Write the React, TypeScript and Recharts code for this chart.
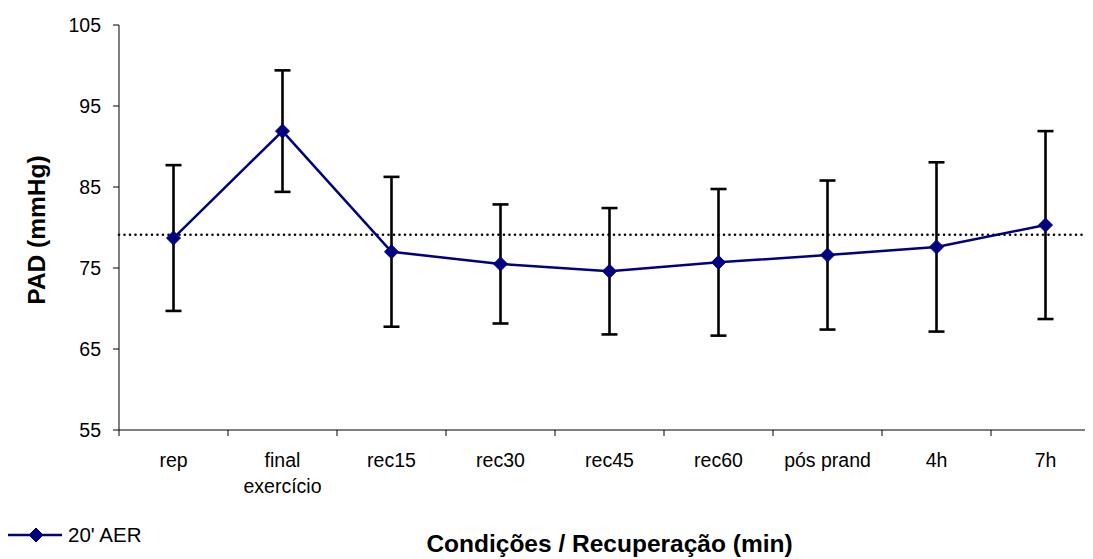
import {
  ComposedChart,
  Line,
  XAxis,
  YAxis,
  ErrorBar,
  ReferenceLine,
} from "recharts";

// PAD por condição, média ± DP
const categories = ["rep", "final\nexercício", "rec15", "rec30", "rec45", "rec60", "pós prand", "4h", "7h"];
const mean = [78.7, 91.9, 77.0, 75.5, 74.6, 75.7, 76.6, 77.6, 80.3];
const sd = [9.0, 7.5, 9.25, 7.35, 7.8, 9.05, 9.2, 10.45, 11.6];
const baseline = 79.1;
const yTicks = [55, 65, 75, 85, 95, 105];

const FONT = '"Liberation Sans", Arial, sans-serif';
const NAVY = "#000080";
const W = 1092;
const H = 551;
const Y_W = 111;
const BAND = (W - Y_W) / categories.length;
const MARK = 7;

const data = categories.map((c, i) => ({ c, v: mean[i], sd: sd[i] }));

function Diamond({ cx, cy }: { cx?: number; cy?: number }) {
  if (cx == null || cy == null) return null;
  const r = MARK;
  return (
    <polygon
      points={`${cx},${cy - r} ${cx + r},${cy} ${cx},${cy + r} ${cx - r},${cy}`}
      fill={NAVY}
      stroke={NAVY}
    />
  );
}

// category label centred in its band, tick mark on the band's left edge
function CatTick(props: any) {
  const { x, y, payload } = props;
  const lines = String(payload.value).split("\n");
  return (
    <g>
      <line x1={x - BAND / 2} x2={x - BAND / 2} y1={y} y2={y + 6} stroke="#000" />
      <text x={x} y={y + 37} textAnchor="middle" fontSize={19.5} fontFamily={FONT} fill="#000">
        {lines.map((l, i) => (
          <tspan key={i} x={x} dy={i === 0 ? 0 : 26}>
            {l}
          </tspan>
        ))}
      </text>
    </g>
  );
}

export default function App() {
  return (
    <div style={{ position: "relative", width: 1085, height: H, overflow: "hidden", fontFamily: FONT }}>
      <ComposedChart
        width={W}
        height={H}
        data={data}
        margin={{ top: 17, right: 0, bottom: 0, left: 0 }}
      >
        <XAxis
          dataKey="c"
          type="category"
          scale="band"
          interval={0}
          height={129}
          tickLine={false}
          tickSize={0}
          tickMargin={0}
          axisLine={{ stroke: "#000" }}
          tick={<CatTick />}
          label={{
            content: () => (
              <text x={Y_W + (W - Y_W) / 2} y={544} textAnchor="middle" fontSize={24.5} fontWeight="bold" fontFamily={FONT} fill="#000">
                Condições / Recuperação (min)
              </text>
            ),
          }}
        />
        <YAxis
          width={Y_W}
          domain={[55, 105]}
          ticks={yTicks}
          interval={0}
          tickSize={6}
          tickMargin={12}
          tickLine={{ stroke: "#000" }}
          axisLine={{ stroke: "#000" }}
          tick={{ fontSize: 19.5, fontFamily: FONT, fill: "#000" }}
          label={{
            content: () => (
              <text
                x={37}
                y={222}
                transform="rotate(-90 37 222)"
                textAnchor="middle"
                fontSize={24.5}
                fontWeight="bold"
                fontFamily={FONT}
                fill="#000"
              >
                PAD (mmHg)
              </text>
            ),
          }}
        />
        <ReferenceLine
          y={baseline}
          stroke="#000"
          strokeWidth={2.6}
          strokeDasharray="0 5.5"
          strokeLinecap="round"
        />
        <Line
          dataKey="v"
          stroke={NAVY}
          strokeWidth={2.5}
          dot={<Diamond />}
          activeDot={false}
          isAnimationActive={false}
        >
          <ErrorBar dataKey="sd" direction="y" width={8} stroke="#000" strokeWidth={2.6} isAnimationActive={false} />
        </Line>
      </ComposedChart>
      <div
        style={{
          position: "absolute",
          left: 0,
          top: 517,
          height: 20,
          display: "flex",
          alignItems: "center",
          fontSize: 20.5,
          color: "#000",
        }}
      >
        <svg width={56} height={20}>
          <line x1={0} x2={54} y1={10} y2={10} stroke={NAVY} strokeWidth={2.5} />
          <Diamond cx={28} cy={10} />
        </svg>
        <span style={{ marginLeft: 4 }}>20' AER</span>
      </div>
    </div>
  );
}
